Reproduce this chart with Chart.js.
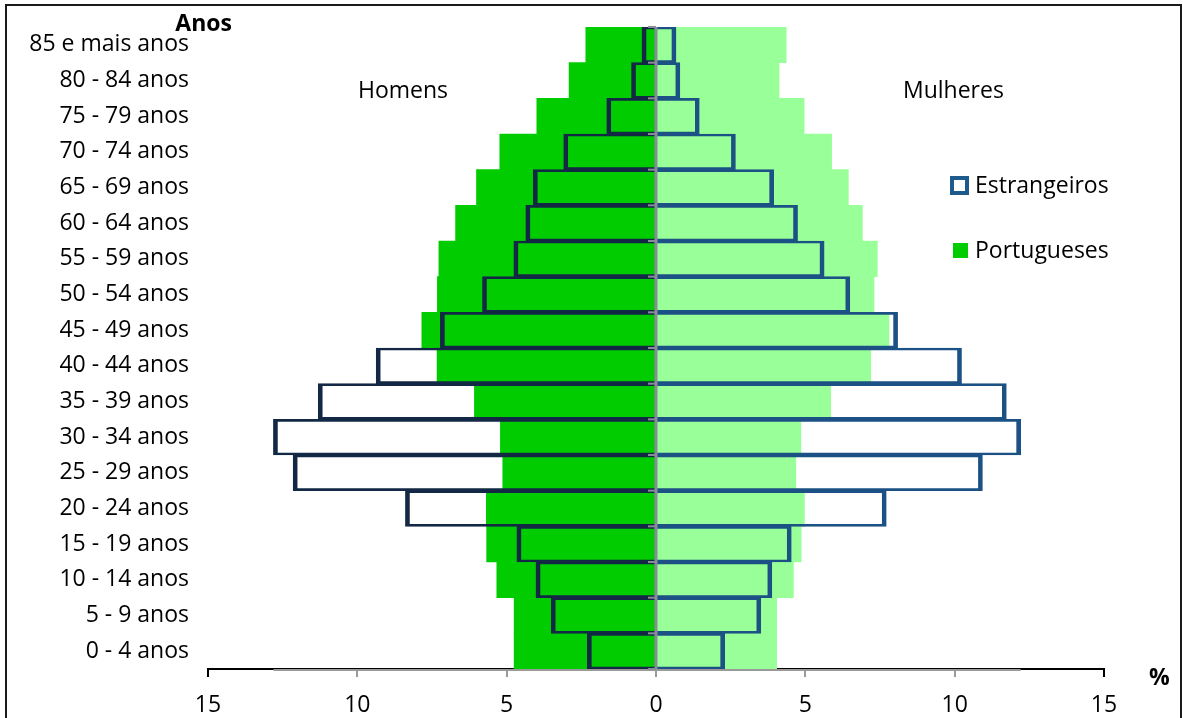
<!DOCTYPE html>
<html>
<head>
<meta charset="utf-8">
<script src="https://cdn.jsdelivr.net/npm/chart.js@4/dist/chart.umd.min.js"></script>
<style>
  body { margin: 0; background: #fff; }
  #wrap { position: relative; width: 1183px; height: 718px; overflow: hidden; }
  #frame {
    position: absolute; left: 5px; top: 4px; width: 1173px; height: 800px;
    border: 2px solid #1a1a1a; pointer-events: none;
  }
</style>
</head>
<body>
<div id="wrap">
  <canvas id="pyramid" width="1183" height="718"></canvas>
  <div id="frame"></div>
</div>
<script>
// ================= DATA =================

const ageGroups = [
    "0 - 4 anos", "5 - 9 anos", "10 - 14 anos", "15 - 19 anos",
    "20 - 24 anos", "25 - 29 anos", "30 - 34 anos", "35 - 39 anos",
    "40 - 44 anos", "45 - 49 anos", "50 - 54 anos", "55 - 59 anos",
    "60 - 64 anos", "65 - 69 anos", "70 - 74 anos", "75 - 79 anos",
    "80 - 84 anos", "85 e mais anos"
];

// % of each population, youngest group first
const portHomens = [4.75, 4.75, 5.33, 5.67, 5.68, 5.13, 5.21, 6.08, 7.33,
    7.84, 7.32, 7.27, 6.71, 6.01, 5.23, 3.99, 2.91, 2.35];
const portMulheres = [4.04, 4.04, 4.60, 4.86, 4.97, 4.68, 4.85, 5.85, 7.19,
    7.80, 7.30, 7.41, 6.91, 6.44, 5.88, 4.96, 4.12, 4.36];
const estrHomens = [2.30, 3.51, 4.02, 4.66, 8.39, 12.15, 12.81, 11.31, 9.37,
    7.22, 5.81, 4.76, 4.36, 4.11, 3.09, 1.65, 0.82, 0.47];
const estrMulheres = [2.30, 3.51, 3.88, 4.53, 7.71, 10.93, 12.21, 11.73, 10.23,
    8.09, 6.49, 5.63, 4.74, 3.94, 2.66, 1.45, 0.80, 0.67];

const xTicks = [-15, -10, -5, 0, 5, 10, 15];

// ================= STYLE =================

const FONT = "'Open Sans', sans-serif";
Chart.defaults.font.family = FONT;
Chart.defaults.font.size = 23;
Chart.defaults.color = "#000";

const outlineWidth = { top: 2, bottom: 2, left: 4, right: 4 };

// ================= DECORATION PLUGIN =================

const pyramidDecor = {
    id: "pyramidDecor",
    afterDatasetsDraw(chart) {
        const ctx = chart.ctx;
        const area = chart.chartArea;
        const x = chart.scales.x;
        const x0 = x.getPixelForValue(0);

        ctx.save();

        // grey part of the bottom axis, between the widest foreign bars
        const lo = x.getPixelForValue(-Math.max(...estrHomens));
        const hi = x.getPixelForValue(Math.max(...estrMulheres));
        ctx.strokeStyle = "#9a9a9a";
        ctx.lineWidth = 2;
        ctx.beginPath();
        ctx.moveTo(lo, area.bottom + 1);
        ctx.lineTo(hi, area.bottom + 1);
        ctx.stroke();

        // centre axis with small ticks between age groups
        const n = ageGroups.length;
        const step = (area.bottom - area.top) / n;
        ctx.strokeStyle = "#8a8c9a";
        ctx.lineWidth = 2;
        for (let i = 0; i <= n; i++) {
            const y = area.top + i * step;
            ctx.beginPath();
            ctx.moveTo(x0 - 8, y);
            ctx.lineTo(x0, y);
            ctx.stroke();
        }
        ctx.lineWidth = 3;
        ctx.beginPath();
        ctx.moveTo(x0, area.top);
        ctx.lineTo(x0, area.bottom);
        ctx.stroke();

        ctx.restore();
    },
    afterDraw(chart) {
        const ctx = chart.ctx;
        ctx.save();
        ctx.fillStyle = "#000";
        ctx.textBaseline = "middle";

        ctx.font = "bold 23px " + FONT;
        ctx.textAlign = "right";
        ctx.fillText("Anos", 232, 24);
        ctx.textAlign = "left";
        ctx.fillText("%", 1149, 678);

        ctx.font = "23px " + FONT;
        ctx.fillText("Homens", 358, 91);
        ctx.fillText("Mulheres", 903, 91);

        // legend
        ctx.fillStyle = "#fff";
        ctx.fillRect(952, 178, 15, 15);
        ctx.strokeStyle = "#1f5a8c";
        ctx.lineWidth = 4;
        ctx.strokeRect(952, 178, 15, 15);
        ctx.fillStyle = "#00cc00";
        ctx.fillRect(953, 243, 15, 15);

        ctx.fillStyle = "#000";
        ctx.fillText("Estrangeiros", 975, 186);
        ctx.fillText("Portugueses", 975, 251);

        ctx.restore();
    }
};

// ================= CHART =================

new Chart(document.getElementById("pyramid"), {

    type: "bar",

    data: {
        labels: ageGroups,
        datasets: [
            {
                label: "Estrangeiros Homens",
                data: estrHomens.map(v => -v),
                backgroundColor: "rgba(0,0,0,0)",
                borderColor: "#132844",
                borderWidth: outlineWidth,
                borderSkipped: "start",
                order: 1
            },
            {
                label: "Estrangeiros Mulheres",
                data: estrMulheres,
                backgroundColor: "rgba(0,0,0,0)",
                borderColor: "#1b5184",
                borderWidth: outlineWidth,
                borderSkipped: "start",
                order: 1
            },
            {
                label: "Portugueses Homens",
                data: portHomens.map(v => -v),
                backgroundColor: "#00cc00",
                borderWidth: 0,
                order: 2
            },
            {
                label: "Portugueses Mulheres",
                data: portMulheres,
                backgroundColor: "#99ff99",
                borderWidth: 0,
                order: 2
            }
        ]
    },

    options: {
        responsive: false,
        animation: false,
        devicePixelRatio: 1,
        indexAxis: "y",
        layout: {
            padding: { left: 0, right: 79, top: 27, bottom: 0 }
        },
        datasets: {
            bar: {
                grouped: false,
                categoryPercentage: 1,
                barPercentage: 1
            }
        },
        plugins: {
            legend: { display: false },
            tooltip: { enabled: false }
        },
        scales: {
            x: {
                min: -15,
                max: 15,
                afterBuildTicks(scale) {
                    scale.ticks = xTicks.map(v => ({ value: v }));
                },
                afterFit(scale) {
                    scale.height = 49;
                },
                ticks: {
                    padding: 15,
                    callback: v => Math.abs(v),
                    font: { size: 23 }
                },
                grid: {
                    drawOnChartArea: false,
                    drawTicks: true,
                    tickLength: 8,
                    lineWidth: 2,
                    color: c => Math.abs(c.tick.value) === 15 ? "#000" : "#9a9a9a"
                },
                border: { display: true, color: "#000", width: 2 }
            },
            y: {
                reverse: true,
                afterFit(scale) {
                    scale.width = 208;
                },
                ticks: {
                    padding: 11,
                    font: { size: 23 }
                },
                grid: { display: false },
                border: { display: false }
            }
        }
    },

    plugins: [pyramidDecor]

});
</script>
</body>
</html>
